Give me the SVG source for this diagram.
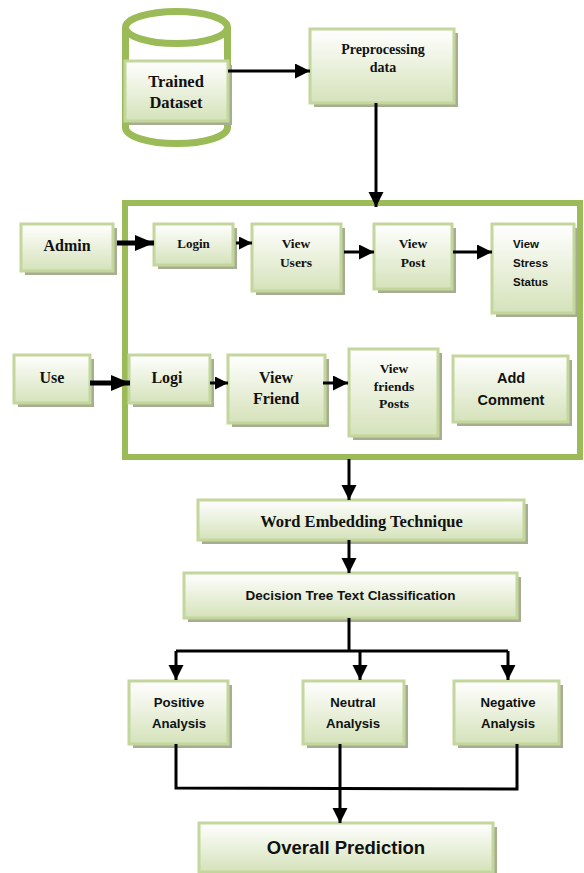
<svg xmlns="http://www.w3.org/2000/svg" width="584" height="873" viewBox="0 0 584 873">
<style>
.box{fill:url(#g);stroke:#C3D69B;stroke-width:3}
.sh{fill:#A6AD90}
.ser{font-family:"Liberation Serif",serif;font-weight:bold;fill:#111;text-anchor:middle}
.san{font-family:"Liberation Sans",sans-serif;font-weight:bold;fill:#111;text-anchor:middle}
.lft{text-anchor:start}
.ln{fill:none;stroke:#000;stroke-width:3}
.thk{fill:none;stroke:#000;stroke-width:5}
</style>
<defs>
<linearGradient id="g" x1="0" y1="0" x2="0" y2="1">
<stop offset="0" stop-color="#FFFFFF"/>
<stop offset="1" stop-color="#D5E2BA"/>
</linearGradient>
<marker id="ah" markerUnits="userSpaceOnUse" markerWidth="16" markerHeight="16" refX="15" refY="7.5" orient="auto">
<path d="M0,0 L15,7.5 L0,15 Z" fill="#000"/>
</marker>
<marker id="ahs" markerUnits="userSpaceOnUse" markerWidth="14" markerHeight="14" refX="13" refY="6.5" orient="auto">
<path d="M0,0 L13,6.5 L0,13 Z" fill="#000"/>
</marker>
<marker id="ahb" markerUnits="userSpaceOnUse" markerWidth="20" markerHeight="18" refX="19" refY="8" orient="auto">
<path d="M0,0 L19,8 L0,16 Z" fill="#000"/>
</marker>
</defs>

<g id="trained-dataset">
<path d="M125.5,27.5 L125.5,127.5 A51,16 0 0 0 227.5,127.5 L227.5,27.5" fill="#fff" stroke="#9BBB59" stroke-width="7"/>
<ellipse cx="176.5" cy="27.5" rx="51" ry="16" fill="#fff" stroke="#9BBB59" stroke-width="7"/>
<rect class="sh" x="129" y="65" width="103" height="60"/>
<rect class="box" x="125" y="61" width="103" height="60"/>
<text class="ser" x="176" y="87" font-size="16.5">Trained</text>
<text class="ser" x="176" y="108" font-size="16.5">Dataset</text>
</g>

<g id="preprocessing">
<rect class="sh" x="314" y="33" width="144" height="74"/>
<rect class="box" x="310" y="29" width="144" height="74"/>
<text class="ser" x="383" y="54" font-size="14">Preprocessing</text>
<text class="ser" x="383" y="72" font-size="14">data</text>
</g>

<g id="container">
<rect x="125" y="203" width="455" height="254" fill="none" stroke="#9BBB59" stroke-width="6"/>
</g>

<g id="admin">
<rect class="sh" x="25" y="228" width="92" height="47"/>
<rect class="box" x="21" y="224" width="92" height="47"/>
<text class="ser" x="67" y="251" font-size="16">Admin</text>
</g>
<g id="login">
<rect class="sh" x="158" y="228" width="79" height="41"/>
<rect class="box" x="154" y="224" width="79" height="41"/>
<text class="ser" x="193.5" y="248" font-size="13">Login</text>
</g>
<g id="view-users">
<rect class="sh" x="256" y="228" width="89" height="67"/>
<rect class="box" x="252" y="224" width="89" height="67"/>
<text class="ser" x="296" y="248" font-size="13.5">View</text>
<text class="ser" x="296" y="267" font-size="13.5">Users</text>
</g>
<g id="view-post">
<rect class="sh" x="378" y="228" width="78" height="65"/>
<rect class="box" x="374" y="224" width="78" height="65"/>
<text class="ser" x="413" y="248" font-size="13.5">View</text>
<text class="ser" x="413" y="267" font-size="13.5">Post</text>
</g>
<g id="view-stress-status">
<rect class="sh" x="496" y="228" width="82" height="89"/>
<rect class="box" x="492" y="224" width="82" height="89"/>
<text class="san lft" x="513" y="248" font-size="11.5">View</text>
<text class="san lft" x="513" y="267" font-size="11.5">Stress</text>
<text class="san lft" x="513" y="286" font-size="11.5">Status</text>
</g>

<g id="use">
<rect class="sh" x="18" y="359" width="76" height="48"/>
<rect class="box" x="14" y="355" width="76" height="48"/>
<text class="ser" x="52" y="383" font-size="16">Use</text>
</g>
<g id="logi">
<rect class="sh" x="133" y="359" width="81" height="48"/>
<rect class="box" x="129" y="355" width="81" height="48"/>
<text class="ser" x="167" y="383" font-size="16">Logi</text>
</g>
<g id="view-friend">
<rect class="sh" x="232" y="359" width="97" height="68"/>
<rect class="box" x="228" y="355" width="97" height="68"/>
<text class="ser" x="276" y="383" font-size="16">View</text>
<text class="ser" x="276" y="404" font-size="16">Friend</text>
</g>
<g id="view-friends-posts">
<rect class="sh" x="353" y="353" width="89" height="87"/>
<rect class="box" x="349" y="349" width="89" height="87"/>
<text class="ser" x="394" y="373" font-size="13.5">View</text>
<text class="ser" x="394" y="391" font-size="13.5">friends</text>
<text class="ser" x="394" y="408" font-size="13.5">Posts</text>
</g>
<g id="add-comment">
<rect class="sh" x="457" y="360" width="115" height="66"/>
<rect class="box" x="453" y="356" width="115" height="66"/>
<text class="san" x="511" y="383" font-size="14.5">Add</text>
<text class="san" x="511" y="405" font-size="14.5">Comment</text>
</g>

<g id="word-embedding">
<rect class="sh" x="202" y="504" width="326" height="40"/>
<rect class="box" x="198" y="500" width="326" height="40"/>
<text class="ser" x="361.5" y="527" font-size="16.5">Word Embedding Technique</text>
</g>
<g id="decision-tree">
<rect class="sh" x="188" y="577" width="333" height="45"/>
<rect class="box" x="184" y="573" width="333" height="45"/>
<text class="san" x="350.5" y="600" font-size="13.5">Decision Tree Text Classification</text>
</g>

<g id="positive">
<rect class="sh" x="133" y="685" width="99" height="63"/>
<rect class="box" x="129" y="681" width="99" height="63"/>
<text class="san" x="179" y="707" font-size="13.2">Positive</text>
<text class="san" x="179" y="728" font-size="13.2">Analysis</text>
</g>
<g id="neutral">
<rect class="sh" x="307" y="685" width="101" height="63"/>
<rect class="box" x="303" y="681" width="101" height="63"/>
<text class="san" x="353" y="707" font-size="13.2">Neutral</text>
<text class="san" x="353" y="728" font-size="13.2">Analysis</text>
</g>
<g id="negative">
<rect class="sh" x="458" y="685" width="105" height="63"/>
<rect class="box" x="454" y="681" width="105" height="63"/>
<text class="san" x="508" y="707" font-size="13.2">Negative</text>
<text class="san" x="508" y="728" font-size="13.2">Analysis</text>
</g>

<g id="overall">
<rect class="sh" x="203" y="827" width="294" height="49"/>
<rect class="box" x="199" y="823" width="294" height="49"/>
<text class="san" x="346" y="854" font-size="18.5">Overall Prediction</text>
</g>

<g id="connectors">
<path class="ln" d="M228,71 L310,71" marker-end="url(#ah)"/>
<path class="ln" d="M376,103 L376,207" marker-end="url(#ah)"/>
<path class="thk" d="M117,243 L154,243" marker-end="url(#ahb)"/>
<path class="ln" d="M236,243 L252,243" marker-end="url(#ahs)"/>
<path class="ln" d="M344,252 L374,252" marker-end="url(#ah)"/>
<path class="ln" d="M453,252 L492,252" marker-end="url(#ah)"/>
<path class="thk" d="M90,383 L130,383" marker-end="url(#ahb)"/>
<path class="ln" d="M210,383 L228,383" marker-end="url(#ahs)"/>
<path class="ln" d="M323,383 L348,383" marker-end="url(#ah)"/>
<path class="ln" d="M349,459 L349,500" marker-end="url(#ah)"/>
<path class="ln" d="M349,540 L349,573" marker-end="url(#ah)"/>
<path class="ln" d="M349,618 L349,651"/>
<path class="ln" d="M176,651 L508,651"/>
<path class="ln" d="M176,651 L176,680" marker-end="url(#ah)"/>
<path class="ln" d="M360,651 L360,680" marker-end="url(#ah)"/>
<path class="ln" d="M508,651 L508,680" marker-end="url(#ah)"/>
<path class="ln" d="M176,744 L176,788 L517,789 L517,744"/>
<path class="ln" d="M340,744 L340,823" marker-end="url(#ah)"/>
</g>
</svg>
